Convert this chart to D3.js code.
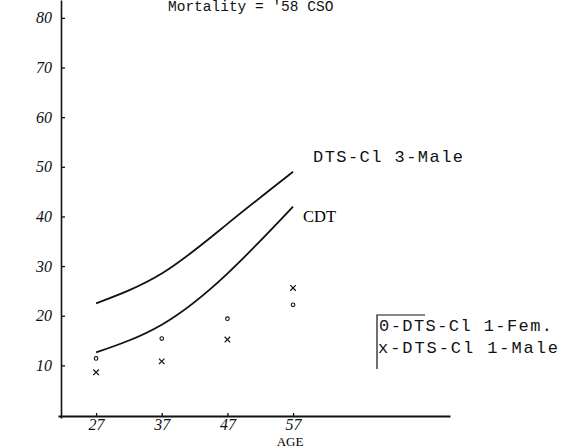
<!DOCTYPE html>
<html>
<head>
<meta charset="utf-8">
<script src="https://cdn.jsdelivr.net/npm/d3@7"></script>
<style>
  body { margin: 0; background: #fff; }
  svg { display: block; }
  .tick text { font-family: "Liberation Serif", serif; font-style: italic; font-size: 16px; fill: #111; }
  .mono { font-family: "Liberation Mono", "DejaVu Sans Mono", monospace; fill: #111; }
</style>
</head>
<body>
<svg width="561" height="448"></svg>
<script>
//data
const ages = [27, 37, 47, 57];
const yTicks = [10, 20, 30, 40, 50, 60, 70, 80];
const cl3Male = [22.5, 28.5, 38.5, 49];   // DTS-Cl 3-Male curve
const cdt = [12.6, 18.2, 28.5, 42];       // CDT curve
const cl1Fem = [11.4, 15.4, 19.4, 22.2];  // o points
const cl1Male = [8.6, 10.8, 15.2, 25.6];  // x points

const svg = d3.select("svg");

//scales
const x = d3.scaleLinear().domain([21.2, 80.9]).range([58, 450]);
const y = d3.scaleLinear().domain([-0.6, 83.6]).range([418, 0]);

//title (cut at top in the scan, kept just inside here)
svg.append("text")
  .attr("class", "mono")
  .attr("x", 168)
  .attr("y", 11)
  .style("font-size", "14.5px")
  .text("Mortality = '58 CSO");

//axes
const yAxis = svg.append("g")
  .attr("transform", "translate(61,0)")
  .call(d3.axisLeft(y).tickValues(yTicks).tickSizeInner(-4).tickSizeOuter(0).tickPadding(9));
yAxis.select(".domain").attr("stroke", "#111").attr("stroke-width", 1.6);
yAxis.selectAll(".tick line").attr("stroke", "#111").attr("stroke-width", 1.3);

const xAxis = svg.append("g")
  .attr("transform", "translate(0,416)")
  .call(d3.axisBottom(x).tickValues(ages).tickSizeInner(-3).tickSizeOuter(0).tickPadding(3));
xAxis.select(".domain").attr("stroke", "#111").attr("stroke-width", 2);
xAxis.selectAll(".tick line").attr("stroke", "#111").attr("stroke-width", 1.3);

svg.append("text")
  .attr("x", 290)
  .attr("y", 446)
  .attr("text-anchor", "middle")
  .style("font-family", "Liberation Serif, serif")
  .style("font-size", "13px")
  .text("AGE");

//curves
const line = d3.line()
  .x((d, i) => x(ages[i]))
  .y(d => y(d))
  .curve(d3.curveNatural);

[cl3Male, cdt].forEach(s => {
  svg.append("path")
    .attr("d", line(s))
    .attr("fill", "none")
    .attr("stroke", "#111")
    .attr("stroke-width", 1.8);
});

svg.append("text")
  .attr("class", "mono")
  .attr("x", 313)
  .attr("y", 162)
  .style("font-size", "17px")
  .attr("textLength", 150)
  .text("DTS-Cl 3-Male");

svg.append("text")
  .attr("x", 303)
  .attr("y", 222)
  .style("font-family", "Liberation Serif, serif")
  .style("font-size", "16.5px")
  .text("CDT");

//points
svg.append("g").selectAll("circle")
  .data(cl1Fem)
  .join("circle")
  .attr("cx", (d, i) => x(ages[i]))
  .attr("cy", d => y(d))
  .attr("r", 1.8)
  .attr("fill", "none")
  .attr("stroke", "#111")
  .attr("stroke-width", 1.1);

const cross = d3.symbol().type(d3.symbolTimes || d3.symbolCross).size(22);
svg.append("g").selectAll("path")
  .data(cl1Male)
  .join("path")
  .attr("transform", (d, i) => "translate(" + x(ages[i]) + "," + y(d) + ")")
  .attr("d", cross)
  .attr("fill", "none")
  .attr("stroke", "#111")
  .attr("stroke-width", 1.2);

//legend
svg.append("path")
  .attr("d", "M425,315H377V369")
  .attr("fill", "none")
  .attr("stroke", "#111")
  .attr("stroke-width", 1.2);

svg.append("text")
  .attr("class", "mono")
  .attr("x", 379)
  .attr("y", 331)
  .style("font-size", "17px")
  .attr("textLength", 173)
  .text("0-DTS-Cl 1-Fem.");

svg.append("text")
  .attr("class", "mono")
  .attr("x", 378)
  .attr("y", 353)
  .style("font-size", "17px")
  .attr("textLength", 180)
  .text("x-DTS-Cl 1-Male");
</script>
</body>
</html>
